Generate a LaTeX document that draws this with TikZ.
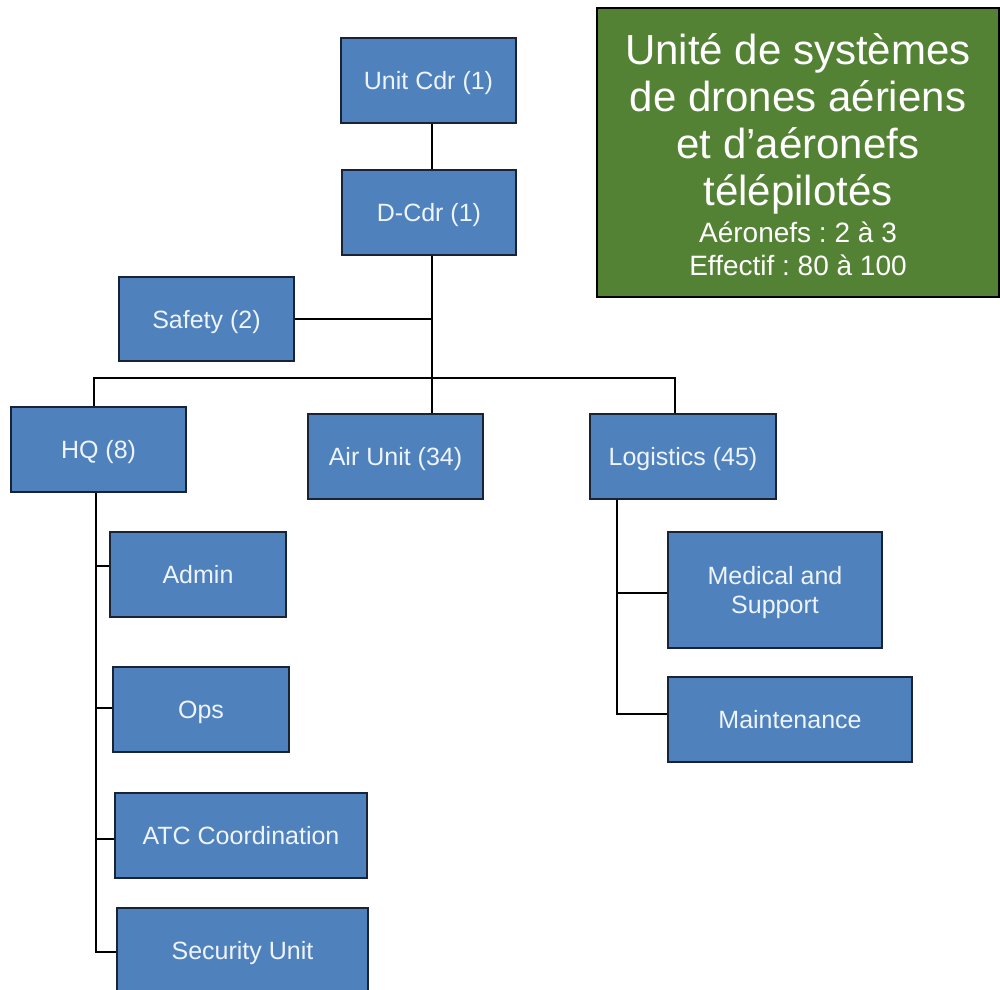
\documentclass[tikz,border=0pt]{standalone}
\usepackage{fontspec}
\setmainfont{Liberation Sans}
\frenchspacing
\definecolor{unitfill}{RGB}{79,129,189}
\definecolor{unitedge}{RGB}{25,35,55}
\definecolor{unittext}{RGB}{238,244,252}
\definecolor{titlefill}{RGB}{84,130,53}

\begin{document}
\begin{tikzpicture}[x=1pt,y=-1pt,
  unit/.style={draw=unitedge, line width=1.8pt, fill=unitfill, text=unittext,
    font=\fontsize{25}{29}\selectfont, minimum width=175pt, minimum height=85pt,
    inner sep=0pt, align=center, text height=18pt, text depth=0pt},
  link/.style={draw=black, line width=1.9pt},
  titlebox/.style={draw=black, line width=1.8pt, fill=titlefill, text=white,
    font=\fontsize{42}{47}\selectfont,
    minimum width=402pt, minimum height=289pt, inner sep=0pt, align=center,
    text height=245pt, text depth=0pt}]

\useasboundingbox (0,0) rectangle (1000,989);
\clip (0,0) rectangle (1000,989);

% command chain
\node[unit] (ucdr) at (428.5,80.5) {Unit Cdr (1)};
\node[unit, minimum width=174pt] (dcdr) at (429,212.5) {D-Cdr (1)};
\node[unit, minimum height=84pt] (safety) at (206.5,319) {Safety (2)};

% main branches
\node[unit] (hq) at (98.5,449.5) {HQ (8)};
\node[unit] (air) at (395.5,456.5) {Air Unit (34)};
\node[unit, minimum width=186pt] (log) at (683,456.5) {Logistics (45)};

% HQ sections
\node[unit, minimum width=176pt] (admin) at (198,574.5) {Admin};
\node[unit, minimum width=176pt] (ops) at (201,709.5) {Ops};
\node[unit, minimum width=252pt] (atc) at (241,835.5) {ATC Coordination};
\node[unit, minimum width=251pt] (sec) at (242.5,950.5) {Security Unit};

% logistics sections
\node[unit, minimum width=214pt, minimum height=116pt, text height=47pt]
  (med) at (775,590) {Medical and\\Support};
\node[unit, minimum width=244pt] (maint) at (790,719.5) {Maintenance};

% title panel
\node[titlebox] (title) at (798,152.5) {%
  Unité de systèmes\\
  de drones aériens\\
  et d’aéronefs\\
  télépilotés\\[-10pt]
  \fontsize{28}{33}\selectfont Aéronefs : 2 à 3\\[-14pt]
  \fontsize{28}{33}\selectfont Effectif : 80 à 100};

% trunk and bus positions
\coordinate (tk) at (432,0);
\coordinate (hqtap) at (94,378);
\coordinate (logtap) at (675,378);
\coordinate (hqtrunk) at (96,0);
\coordinate (logtrunk) at (617,0);

% connectors
\draw[link] (ucdr.south -| tk) -- (dcdr.north -| tk);
\draw[link] (dcdr.south -| tk) -- (air.north -| tk);
\draw[link] (safety.east) -- (safety.east -| tk);
\draw[link] (hq.north -| hqtap) -- (hqtap) -- (logtap) -- (log.north -| logtap);

\draw[link] (hq.south -| hqtrunk) |- ([yshift=-1.5pt]sec.west);
\draw[link] ([yshift=8.5pt]admin.west) -- ([yshift=8.5pt]admin.west -| hqtrunk);
\draw[link] ([yshift=1.5pt]ops.west) -- ([yshift=1.5pt]ops.west -| hqtrunk);
\draw[link] ([yshift=-3.5pt]atc.west) -- ([yshift=-3.5pt]atc.west -| hqtrunk);

\draw[link] (log.south -| logtrunk) |- ([yshift=5.5pt]maint.west);
\draw[link] ([yshift=-3pt]med.west) -- ([yshift=-3pt]med.west -| logtrunk);
\end{tikzpicture}
\end{document}
